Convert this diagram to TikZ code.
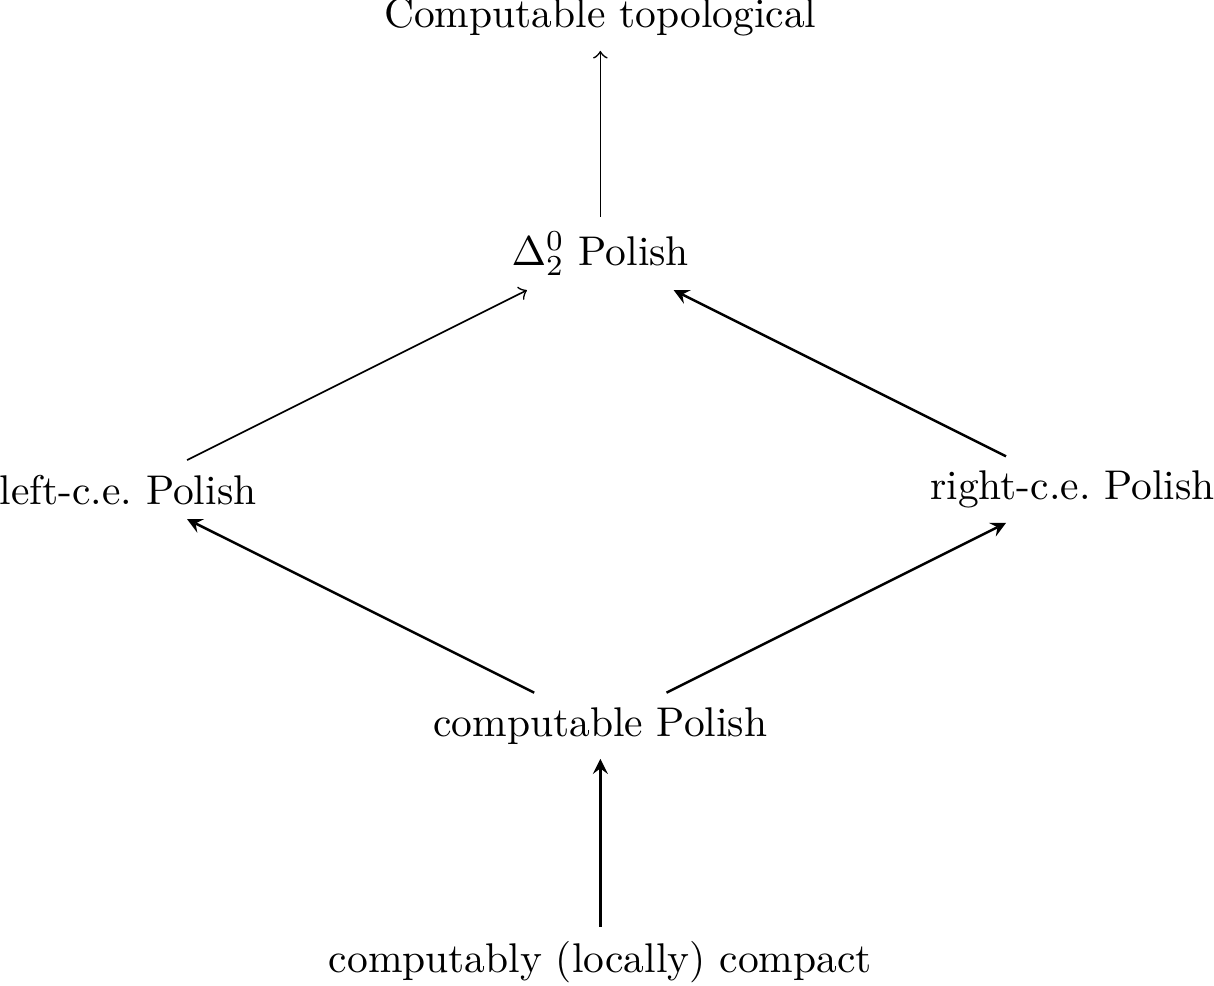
\documentclass[tikz,border=0pt]{standalone}
\usepackage{amsmath}
\usetikzlibrary{matrix,arrows,calc}

\begin{document}
\begin{tikzpicture}[
net/.style={
  matrix of nodes,
  nodes={
    anchor=center
    },
  column sep={4cm,between origins},
  row sep={2cm,between origins}
  },
weak/.style={
  ->
  },
strong/.style={
  -stealth,
  semithick
  }
]
\matrix[net] (mat)
{
                   & Computable topological       &                    \\
                   & $\Delta^0_2$ Polish          &                    \\
left-c.e.\ Polish  &                              & right-c.e.\ Polish \\
                   & computable Polish            &                    \\
                   & computably (locally) compact &                    \\
};

\draw[weak] (mat-2-2) -- (mat-1-2);
\draw[weak] (mat-3-1) -- (mat-2-2);
\draw[strong] (mat-3-3) -- (mat-2-2);
\draw[strong] (mat-4-2) -- (mat-3-1);
\draw[strong] (mat-4-2) -- (mat-3-3);
\draw[strong] (mat-5-2) -- (mat-4-2);

\pgfresetboundingbox
\useasboundingbox ($(mat-3-1.west |- mat-4-2.center)+(3.6pt,-62.6pt)$) rectangle ($(mat-3-3.east |- mat-4-2.center)+(-3.75pt,174.9pt)$);
\end{tikzpicture}
\end{document}
